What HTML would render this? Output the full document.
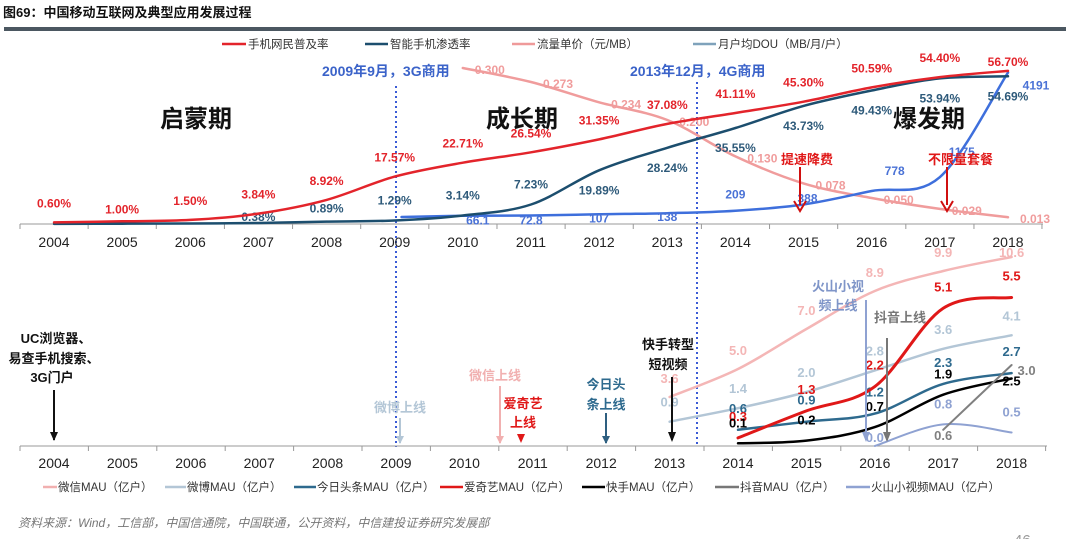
<!DOCTYPE html>
<html><head><meta charset="utf-8">
<style>
html,body{margin:0;padding:0;background:#fff;}
body{width:1066px;height:539px;overflow:hidden;position:relative;font-family:"Liberation Sans","Noto Sans CJK SC",sans-serif;}
svg text{font-family:"Liberation Sans","Noto Sans CJK SC",sans-serif;}
</style></head>
<body>
<svg id="chart" width="1066" height="539" viewBox="0 0 1066 539" xmlns="http://www.w3.org/2000/svg">
<text x="3" y="17" font-size="13" font-weight="bold" font-family="Noto Serif CJK SC, serif" fill="#111">图69：中国移动互联网及典型应用发展过程</text>
<rect x="4" y="27" width="1062" height="4" fill="#4b5761"/>

<g id="top-legend" font-size="11.5" fill="#333">
 <line x1="222" y1="44" x2="246" y2="44" stroke="#e3242b" stroke-width="2.5"/><text x="248" y="48">手机网民普及率</text>
 <line x1="365" y1="44" x2="388" y2="44" stroke="#1c4e6e" stroke-width="2.5"/><text x="390" y="48">智能手机渗透率</text>
 <line x1="512" y1="44" x2="535" y2="44" stroke="#ef9a9a" stroke-width="2.5"/><text x="537" y="48">流量单价（元/MB）</text>
 <line x1="693" y1="44" x2="716" y2="44" stroke="#7fa2bb" stroke-width="2.5"/><text x="718" y="48">月户均DOU（MB/月/户）</text>
</g>

<g font-size="24" font-weight="bold" fill="#111">
 <text x="160" y="127">启蒙期</text><text x="486" y="127">成长期</text><text x="893" y="127">爆发期</text>
</g>
<g font-size="14" font-weight="bold" fill="#3b63c9">
 <text x="322" y="76">2009年9月，3G商用</text><text x="630" y="76">2013年12月，4G商用</text>
</g>
<line x1="396" y1="86" x2="396" y2="447" stroke="#3b5bd6" stroke-width="2" stroke-dasharray="2,3"/>
<line x1="697" y1="82" x2="697" y2="447" stroke="#3b5bd6" stroke-width="2" stroke-dasharray="2,3"/>

<g id="top-axis"></g>
<g id="top-series"></g>

<g font-size="13" font-weight="bold" fill="#e01818" font-family="Noto Serif CJK SC, serif">
 <text x="781" y="164">提速降费</text>
 <line x1="800" y1="167" x2="800" y2="205" stroke="#d01010" stroke-width="2"/><path d="M794,201 L800,211 L806,201" fill="none" stroke="#d01010" stroke-width="2"/>
 <text x="928" y="164">不限量套餐</text>
 <line x1="947" y1="167" x2="947" y2="205" stroke="#d01010" stroke-width="2"/><path d="M941,201 L947,211 L953,201" fill="none" stroke="#d01010" stroke-width="2"/>
</g>

<g id="bottom-axis"></g>
<g id="bottom-series"></g>

<g font-size="13" font-weight="bold" font-family="Noto Serif CJK SC, serif" text-anchor="middle">
 <text x="56" y="343" fill="#111">UC浏览器、</text><text x="54" y="363" fill="#111">易查手机搜索、</text><text x="52" y="382" fill="#111">3G门户</text>
 <line x1="54" y1="390" x2="54" y2="440" stroke="#111" stroke-width="2"/><path d="M50,432 L54,441 L58,432Z" fill="#111"/>
 <text x="400" y="412" fill="#b3c6d6">微博上线</text>
 <line x1="400" y1="418" x2="400" y2="443" stroke="#b3c6d6" stroke-width="2"/><path d="M396,436 L400,444 L404,436Z" fill="#b3c6d6"/>
 <text x="495" y="380" fill="#f1b0b0">微信上线</text>
 <line x1="500" y1="386" x2="500" y2="443" stroke="#f1b0b0" stroke-width="2"/><path d="M496,436 L500,444 L504,436Z" fill="#f1b0b0"/>
 <text x="523" y="408" fill="#e01818">爱奇艺</text><text x="523" y="427" fill="#e01818">上线</text>
 <path d="M517,434 L521,443 L525,434Z" fill="#e01818"/>
 <text x="606" y="389" fill="#2e6a8e">今日头</text><text x="606" y="409" fill="#2e6a8e">条上线</text>
 <line x1="606" y1="413" x2="606" y2="443" stroke="#2e5f80" stroke-width="2"/><path d="M602,436 L606,444 L610,436Z" fill="#2e5f80"/>
 <text x="668" y="349" fill="#111">快手转型</text><text x="668" y="369" fill="#111">短视频</text>
 <line x1="672" y1="377" x2="672" y2="440" stroke="#111" stroke-width="2"/><path d="M668,432 L672,442 L676,432Z" fill="#111"/>
 <text x="838" y="291" fill="#7f95c8">火山小视</text><text x="838" y="310" fill="#7f95c8">频上线</text>
 <line x1="866" y1="300" x2="866" y2="440" stroke="#8fa2d2" stroke-width="2"/><path d="M862,432 L866,442 L870,432Z" fill="#8fa2d2"/>
 <text x="900" y="322" fill="#777">抖音上线</text>
 <line x1="887" y1="338" x2="887" y2="440" stroke="#777" stroke-width="2"/><path d="M883,432 L887,442 L891,432Z" fill="#777"/>
</g>

<g id="bottom-legend" font-size="11.5" fill="#333">
 <line x1="43" y1="487" x2="57" y2="487" stroke="#f1b0b0" stroke-width="2.5"/><text x="58" y="491">微信MAU（亿户）</text>
 <line x1="165" y1="487" x2="186" y2="487" stroke="#b3c6d6" stroke-width="2.5"/><text x="187" y="491">微博MAU（亿户）</text>
 <line x1="294" y1="487" x2="316" y2="487" stroke="#2e6a8e" stroke-width="2.5"/><text x="317" y="491">今日头条MAU（亿户）</text>
 <line x1="440" y1="487" x2="463" y2="487" stroke="#e01818" stroke-width="2.5"/><text x="464" y="491">爱奇艺MAU（亿户）</text>
 <line x1="582" y1="487" x2="605" y2="487" stroke="#000" stroke-width="2.5"/><text x="606" y="491">快手MAU（亿户）</text>
 <line x1="715" y1="487" x2="739" y2="487" stroke="#777" stroke-width="2.5"/><text x="740" y="491">抖音MAU（亿户）</text>
 <line x1="846" y1="487" x2="870" y2="487" stroke="#8fa2d2" stroke-width="2.5"/><text x="871" y="491">火山小视频MAU（亿户）</text>
</g>
<text x="18" y="527" font-size="12" font-style="italic" fill="#777" font-family="Noto Serif CJK SC, serif">资料来源：Wind，工信部，中国信通院，中国联通，公开资料，中信建投证券研究发展部</text>
<text x="1014" y="545" font-size="15" fill="#999">46</text>
</svg>
<script>
// ---------- data: top chart ----------
const topYears = [2004,2005,2006,2007,2008,2009,2010,2011,2012,2013,2014,2015,2016,2017,2018];
const penetration = [0.60,1.00,1.50,3.84,8.92,17.57,22.71,26.54,31.35,37.08,41.11,45.30,50.59,54.40,56.70];
const smartYears = [2004,2005,2006,2007,2008,2009,2010,2011,2012,2013,2014,2015,2016,2017,2018];
const smartRate = [0.05,0.1,0.2,0.38,0.89,1.29,3.14,7.23,19.89,28.24,35.55,43.73,49.43,53.94,54.69];
const smartLabels = ["","","","0.38%","0.89%","1.29%","3.14%","7.23%","19.89%","28.24%","35.55%","43.73%","49.43%","53.94%","54.69%"];
const priceYears = [2010,2011,2012,2013,2014,2015,2016,2017,2018];
const priceVals = [0.300,0.273,0.234,0.200,0.130,0.078,0.050,0.029,0.013];
const priceLabels = ["0.300","0.273","0.234","0.200","0.130","0.078","0.050","0.029","0.013"];
const douYears = [2010,2011,2012,2013,2014,2015,2016,2017,2018];
const douVals = [66.1,72.8,107,138,209,388,778,1175,4191];
// ---------- data: bottom chart ----------
const botYears = [2004,2005,2006,2007,2008,2009,2010,2011,2012,2013,2014,2015,2016,2017,2018];
const wechatYears = [2013,2014,2015,2016,2017,2018];
const wechatMAU = [3.6,5.0,7.0,8.9,9.9,10.6];
const weiboYears = [2013,2014,2015,2016,2017,2018];
const weiboMAU = [0.9,1.4,2.0,2.8,3.6,4.1];
const toutiaoYears = [2014,2015,2016,2017,2018];
const toutiaoMAU = [0.6,0.9,1.2,2.3,2.7];
const iqiyiYears = [2014,2015,2016,2017,2018];
const iqiyiMAU = [0.3,1.3,2.2,5.1,5.5];
const kuaishouYears = [2014,2015,2016,2017,2018];
const kuaishouMAU = [0.1,0.2,0.7,1.9,2.5];
const douyinYears = [2017,2018];
const douyinMAU = [0.6,3.0];
const huoshanYears = [2016,2017,2018];
const huoshanMAU = [0.0,0.8,0.5];

const NS = "http://www.w3.org/2000/svg";
function mk(tag, attrs, parent){const e=document.createElementNS(NS,tag);for(const k in attrs)e.setAttribute(k,attrs[k]);parent.appendChild(e);return e;}
const xTop = y => 54 + (y-2004)*68.14;
const yPct = v => 224 - v*2.70;
const yPrice = v => 224 - v*520;
const yDou = v => 218 - v*0.0347;
const xBot = y => 54 + (y-2004)*68.4;
const yMau = v => 446 - v*27;
const yWechat = v => 469 - v*20;

function smooth(pts){
  let d = "M"+pts[0][0].toFixed(1)+","+pts[0][1].toFixed(1);
  for(let i=0;i<pts.length-1;i++){
    const p0=pts[i-1]||pts[i], p1=pts[i], p2=pts[i+1], p3=pts[i+2]||p2;
    const c1=[p1[0]+(p2[0]-p0[0])/6, p1[1]+(p2[1]-p0[1])/6];
    const c2=[p2[0]-(p3[0]-p1[0])/6, p2[1]-(p3[1]-p1[1])/6];
    d+=` C${c1[0].toFixed(1)},${c1[1].toFixed(1)} ${c2[0].toFixed(1)},${c2[1].toFixed(1)} ${p2[0].toFixed(1)},${p2[1].toFixed(1)}`;
  }
  return d;
}
function series(parent, name, xs, vals, xf, yf, color, width, labels, lblColor, dyFn, dxFn, fs){
  const g = mk("g",{},parent);
  
  
  const pts = xs.map((x,i)=>[xf(x), yf(vals[i])]);
  const p = mk("path",{d:smooth(pts),fill:"none",stroke:color,"stroke-width":width,"stroke-linecap":"round"},g);
  
  
  pts.forEach((pt,i)=>{
    if(!labels[i]) return;
    const t = mk("text",{x:(pt[0]+dxFn(i)).toFixed(1), y:(pt[1]+dyFn(i)+4).toFixed(1),"text-anchor":"middle","font-size":fs,"font-weight":"bold",fill:lblColor},g);
    
    
    t.textContent = labels[i];
  });
}
const ta = document.getElementById("top-axis");
mk("line",{x1:20,y1:224,x2:1043,y2:224,stroke:"#999","stroke-width":1},ta);
topYears.forEach(y=>{
  mk("line",{x1:xTop(y)-34,y1:224,x2:xTop(y)-34,y2:229,stroke:"#999"},ta);
  const t=mk("text",{x:xTop(y),y:247,"text-anchor":"middle","font-size":14,fill:"#222"},ta);
  
  
  t.textContent=y;
});
mk("line",{x1:xTop(2018)+34,y1:224,x2:xTop(2018)+34,y2:229,stroke:"#999"},ta);

const ts = document.getElementById("top-series");
series(ts,"traffic-price",priceYears,priceVals,xTop,yPrice,"#f09c9c",2.5,priceLabels,"#f09c9c",i=>2,i=>27,12);
series(ts,"monthly-dou",[2009.1].concat(douYears),[30].concat(douVals),xTop,yDou,"#3e6fdc",2.5,[""].concat(douVals.map(String)),"#4a72d6",
  i=>[0,5,5,4,4,-16,-6,-20,-25,13][i], i=>[0,15,0,0,0,0,4,23,22,28][i],12);
series(ts,"smartphone-penetration",smartYears,smartRate,xTop,yPct,"#1c4e6e",2.5,smartLabels,"#2e5a7a",
  i=>i===3?-6:i===4?-13:i<8?-20:20, i=>0,12);
series(ts,"mobile-netizen-penetration",topYears,penetration,xTop,yPct,"#e3242b",2.5,penetration.map(v=>v.toFixed(2)+"%"),"#e3242b",
  i=>i===14?-9:i===1?-12:-19, i=>0,12);

const ba = document.getElementById("bottom-axis");
mk("line",{x1:20,y1:446,x2:1047,y2:446,stroke:"#999","stroke-width":1},ba);
botYears.forEach(y=>{
  mk("line",{x1:xBot(y)-34,y1:446,x2:xBot(y)-34,y2:451,stroke:"#999"},ba);
  const t=mk("text",{x:xBot(y),y:468,"text-anchor":"middle","font-size":14,fill:"#222"},ba);
  
  
  t.textContent=y;
});
mk("line",{x1:xBot(2018)+34,y1:446,x2:xBot(2018)+34,y2:451,stroke:"#999"},ba);

const bs = document.getElementById("bottom-series");
const f1 = v=>v.toFixed(1);
series(bs,"wechat-mau",wechatYears,wechatMAU,xBot,yWechat,"#f4b6b6",2.5,wechatMAU.map(f1),"#f4b6b6",i=>i===5?-4:-18,i=>0,13);
series(bs,"weibo-mau",weiboYears,weiboMAU,xBot,yMau,"#b3c6d6",2.5,weiboMAU.map(f1),"#b3c6d6",i=>-19,i=>0,13);
series(bs,"huoshan-mau",huoshanYears,huoshanMAU,xBot,yMau,"#8fa2d2",2,huoshanMAU.map(f1),"#8fa2d2",i=>i===0?-8:-20,i=>0,13);
series(bs,"toutiao-mau",toutiaoYears,toutiaoMAU,xBot,yMau,"#2e6a8e",2.5,toutiaoMAU.map(f1),"#2e6a8e",i=>-21,i=>0,13);
series(bs,"iqiyi-mau",iqiyiYears,iqiyiMAU,xBot,yMau,"#e01818",3,iqiyiMAU.map(f1),"#e01818",i=>-21,i=>0,13);
series(bs,"kuaishou-mau",kuaishouYears,kuaishouMAU,xBot,yMau,"#000",2.5,kuaishouMAU.map(f1),"#000",i=>i===4?3:-20,i=>0,13);
series(bs,"douyin-mau",douyinYears,douyinMAU,xBot,yMau,"#808080",2,douyinMAU.map(f1),"#808080",i=>6,i=>i===0?0:15,13);
</script>
</body></html>
